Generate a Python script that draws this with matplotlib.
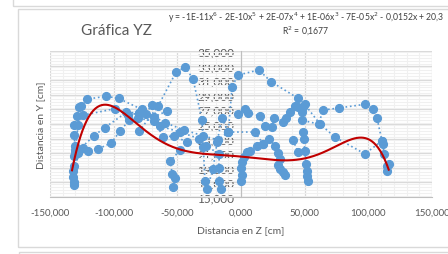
import matplotlib.pyplot as plt
import numpy as np
from matplotlib.patches import Rectangle
from matplotlib.ticker import MultipleLocator, FuncFormatter

# Recorridos (Z, Y), en cm
z1 = [-131.5, -132, -131, -131.5, -130, -131.5, -131, -128.5, -127, -126, -121, -106, -96, -78, -60, -45, -30, -18, -10]
y1 = [16.6, 17.8, 19.2, 20.6, 22.0, 23.5, 24.9, 26.1, 27.3, 27.4, 28.4, 28.8, 28.5, 27.0, 25.2, 24.2, 23.4, 22.8, 23.9]

z2 = [-132, -130, -128, -124, -99, -89, -80, -75, -70, -63.6, -47.9, -33, -29.8, -27.5, -17, -17.5, -17, -16]
y2 = [18.5, 21.5, 24.8, 26.2, 27.1, 26.2, 26.5, 26.4, 27.6, 24.7, 23.9, 23.0, 21.9, 22.0, 20.9, 19.0, 17.2, 16.1]

z3 = [-131, -128, -124, -120, -112, -102, -95, -88, -81, -68, -61, -52.6, -42.4, -47.9, -55.7, -54, -51.8, -53.4]
y3 = [17.0, 21.0, 21.7, 21.3, 21.6, 22.4, 24.0, 25.5, 25.8, 25.4, 23.2, 23.4, 22.5, 21.4, 19.9, 18.2, 17.6, 16.4]

z4 = [-130, -115.4, -107, -90, -80, -68, -58]
y4 = [21.0, 23.4, 24.5, 26.6, 26.5, 26.0, 26.8]

z5 = [-80, -65, -51, -44, -37.7, -30.6, -28.3, -26.7, -22, -18.8, -15, -10, -7, -2.4, 14, 23.6, 45, 50, 62, 73.8, 97.3, 110.7]
y5 = [24.0, 27.5, 32.1, 32.8, 31.2, 25.5, 17.2, 16.1, 18.8, 22.5, 25.8, 23.9, 30.1, 31.7, 32.4, 30.8, 28.5, 27.7, 25.0, 23.2, 20.9, 22.7]

z6 = [-2.4, 3.1, 5.5, 15, 18.8, 24, 26, 33, 35.3, 38.5, 42.4, 44.7, 48.7, 48, 48, 61, 64.4, 77, 97.3, 103.6, 106.8, 110.7, 111.5, 112.3, 114.6, 116, 114.6]
y6 = [26.4, 27.1, 26.5, 26.1, 24.7, 24.6, 25.8, 25.3, 25.8, 26.6, 27.5, 27.3, 27.3, 26.6, 25.5, 25.0, 26.9, 27.2, 27.7, 27.1, 25.8, 22.7, 22.3, 20.9, 19.2, 19.5, 18.6]

z7 = [0, 0.5, 0, 0.5, 2, 4.7, 7, 12.6, 17.3, 22, 26.7, 29, 30.6, 29, 30.5, 33, 34.5]
y7 = [17.2, 18.0, 19.0, 19.8, 20.5, 21.2, 21.3, 22.0, 22.3, 23.0, 22.0, 21.0, 20.2, 19.4, 18.8, 18.4, 18.0]

z8 = [40.8, 44.7, 50, 48.7, 49.5, 51, 51.5, 52, 52.6]
y8 = [22.8, 21.2, 21.3, 23.9, 23.0, 19.5, 18.6, 17.9, 17.2]

z9 = [-10, 11, 17.3]
y9 = [23.9, 23.9, 22.3]

series = [(z1, y1), (z2, y2), (z3, y3), (z4, y4), (z5, y5), (z6, y6), (z7, y7), (z8, y8), (z9, y9)]

# puntos leidos sobre la linea de tendencia (polinomica de grado 6)
trend_z = [-132.7, -128, -121, -105, -89.5, -71.4, -53.4, -32, -0.8, 33, 51.8, 75, 93.4, 103.6, 111.5, 116]
trend_y = [18.2, 22.9, 25.4, 27.3, 26.4, 23.4, 22.0, 21.0, 20.5, 19.9, 20.5, 22.0, 23.1, 22.5, 20.6, 18.8]

blue = "#5B9BD5"
gray_txt = "#595959"
plt.rcParams['font.family'] = ['Lato', 'DejaVu Sans']

fig = plt.figure(figsize=(4.48, 2.55), dpi=100)
ax = fig.add_axes([50 / 448, 1 - 198 / 255, 382 / 448, 146 / 255])

# marcos del libro de Excel
fig.add_artist(Rectangle((13 / 448, 1 - 7 / 255), 1, 1, transform=fig.transFigure, fill=False, ec="#D9D9D9", lw=1))
fig.add_artist(Rectangle((18 / 448, 1 - 248 / 255), 1, (248 - 9.5) / 255, transform=fig.transFigure,
                         fill=False, ec="#D9D9D9", lw=1))
fig.add_artist(Rectangle((19 / 448, -1), 1, 1 + 2 / 255, transform=fig.transFigure, fill=False, ec="#D9D9D9", lw=1))

for z, y in series:
    ax.plot(z, y, ls=":", color=blue, lw=1.2, marker="o", ms=5.6, mfc=blue, mec=blue, zorder=3)

coef = np.polyfit(trend_z, trend_y, 6)
zz = np.linspace(min(trend_z), max(trend_z), 300)
ax.plot(zz, np.polyval(coef, zz), color="#C00000", lw=1.5, zorder=4)

ax.set_xlim(-150, 150)
ax.set_ylim(15, 35)
ax.xaxis.set_major_locator(MultipleLocator(50))
ax.xaxis.set_minor_locator(MultipleLocator(10))
ax.yaxis.set_minor_locator(MultipleLocator(0.4))
ax.set_yticks(np.arange(15, 35.1, 2))
fmt = FuncFormatter(lambda v, p: f"{v:.3f}".replace(".", ","))
ax.xaxis.set_major_formatter(fmt)
ax.yaxis.set_major_formatter(fmt)
ax.grid(which="major", color="#D9D9D9", lw=0.9)
ax.grid(which="minor", color="#F0F0F0", lw=0.8)
ax.set_axisbelow(True)

for s in ["top", "right"]:
    ax.spines[s].set_visible(False)
ax.spines["left"].set_position(("data", 0))
ax.spines["left"].set_color("#BFBFBF")
ax.spines["bottom"].set_color("#BFBFBF")
ax.tick_params(which="both", length=0, labelsize=7, labelcolor=gray_txt)
ax.tick_params(axis="x", pad=8)
ax.tick_params(axis="y", pad=5, labelsize=8.5)

ax.set_xlabel("Distancia en Z [cm]", fontsize=7.5, color=gray_txt, labelpad=6)
fig.text(41 / 448, 1 - 125 / 255, "Distancia en Y [cm]", rotation=90, fontsize=7.5, color=gray_txt,
         ha="center", va="center")

fig.text(116 / 448, 1 - 31 / 255, "Gráfica YZ", fontsize=11, color=gray_txt, ha="center", va="center")
fig.text(306 / 448, 1 - 18 / 255,
         "y = -1E-11x$^6$ - 2E-10x$^5$ + 2E-07x$^4$ + 1E-06x$^3$ - 7E-05x$^2$ - 0,0152x + 20,3",
         fontsize=6.2, color="#404040", ha="center", va="center")
fig.text(306 / 448, 1 - 31 / 255, "R$^2$ = 0,1677", fontsize=6.2, color="#404040", ha="center", va="center")

fig.savefig("out.png", dpi=100)
